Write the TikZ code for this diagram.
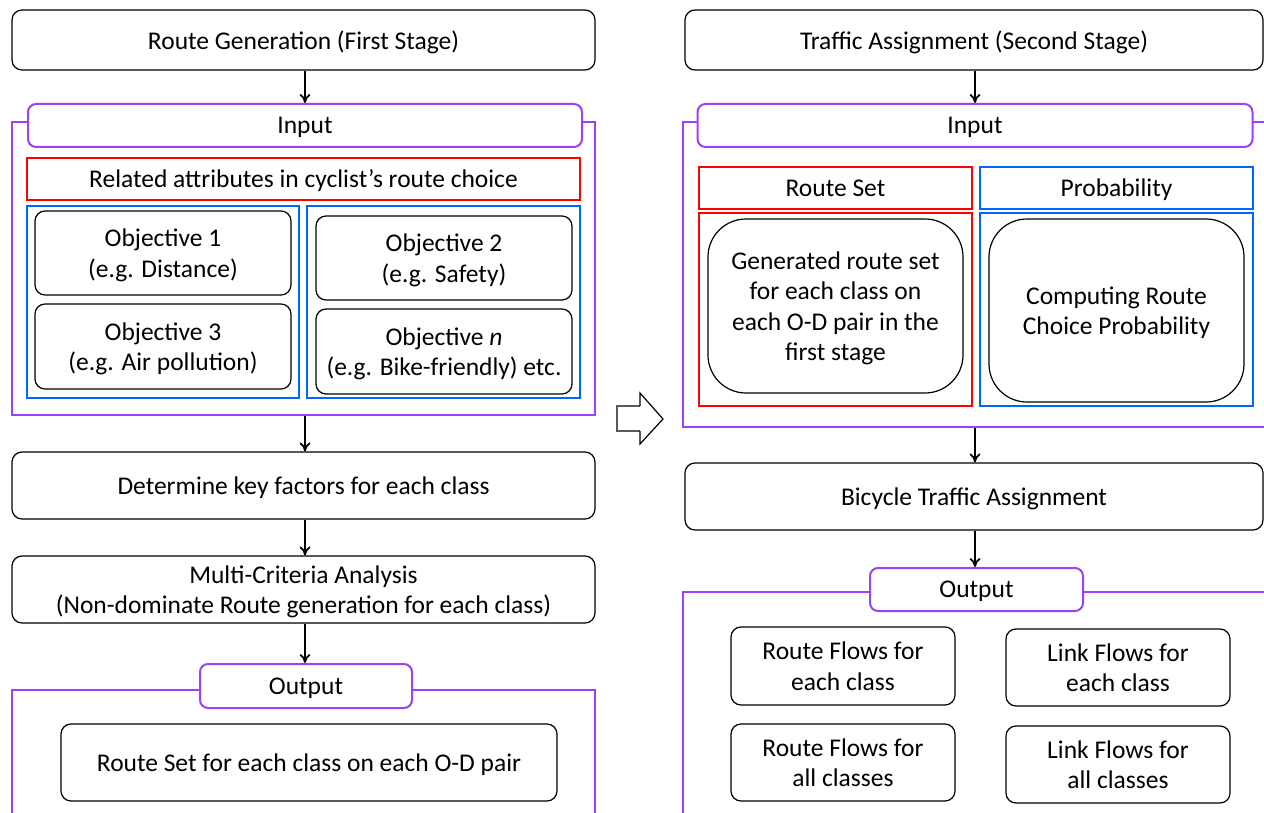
\documentclass[tikz,border=0pt]{standalone}
\usepackage{fontspec}
\setmainfont{Carlito}
\usetikzlibrary{arrows.meta}
\definecolor{purp}{RGB}{155,65,250}
\definecolor{myred}{RGB}{255,0,0}
\definecolor{myblue}{RGB}{0,102,255}
\tikzset{
  box/.style={draw=black, line width=1.2pt, rounded corners=10pt, fill=white, align=center, inner sep=0pt},
  pill/.style={draw=purp, line width=2pt, rounded corners=8pt, fill=white, align=center, inner sep=0pt},
  frame/.style={draw=purp, line width=2pt, inner sep=0pt},
  redbox/.style={draw=myred, line width=2pt, fill=white, align=center, inner sep=0pt},
  bluebox/.style={draw=myblue, line width=2pt, fill=white, align=center, inner sep=0pt},
  arr/.style={-{To[length=9pt,width=11pt]}, line width=1.8pt, black},
}
\begin{document}
\begin{tikzpicture}[x=1pt,y=-1pt, every node/.style={font=\fontsize{25.5}{30.5}\selectfont, text depth=0pt}]
\useasboundingbox (0,0) rectangle (1264,813);
% ---------------- Left column ----------------
\node[box, minimum width=583, minimum height=60] (top1) at (303.5,40) {Route Generation (First Stage)};
\node[frame, minimum width=583, minimum height=293] (frame1) at (303.5,268.5) {};
\node[pill, minimum width=554, minimum height=43] (in1) at (305,125.5) {Input};
\node[redbox, minimum width=553, minimum height=42] (attr) at (303.5,179) {Related attributes in cyclist’s route choice};
\node[bluebox, minimum width=272, minimum height=192] (blueL) at (163,302) {};
\node[bluebox, minimum width=273, minimum height=192] (blueR) at (443.5,302) {};
\node[box, minimum width=256, minimum height=84] (obj1) at (163,253) {Objective 1\\(e.g. Distance)};
\node[box, minimum width=256, minimum height=85] (obj3) at (163,346.5) {Objective 3\\(e.g. Air pollution)};
\node[box, minimum width=256, minimum height=84] (obj2) at (444,258) {Objective 2\\(e.g. Safety)};
\node[box, minimum width=256, minimum height=85] (objn) at (444,351.5) {Objective \textit{n}\\(e.g. Bike-friendly) etc.};
\node[box, minimum width=583, minimum height=67] (det) at (303.5,485.5) {Determine key factors for each class};
\node[box, minimum width=583, minimum height=67] (mca) at (303.5,589.5) {Multi-Criteria Analysis\\(Non-dominate Route generation for each class)};
\coordinate (o1a) at (12,830);
\coordinate (o1b) at (595,830);
\draw[purp, line width=2pt] (o1a) -- (12,690) -- (595,690) -- (o1b);
\node[pill, minimum width=212, minimum height=44] (out1) at (306,686) {Output};
\node[box, minimum width=496, minimum height=77] (rs) at (309,762.5) {Route Set for each class on each O-D pair};
\draw[arr] (top1.south -| in1.north) -- (in1.north);
\draw[arr] (frame1.south -| in1.north) -- (det.north -| in1.north);
\draw[arr] (det.south -| in1.north) -- (mca.north -| in1.north);
\draw[arr] (mca.south -| in1.north) -- (out1.north -| in1.north);
% ---------------- Block arrow ----------------
\draw[line width=1.2pt, black!65] (640,406) -- (617,406) -- (617,431) -- (640,431);
\draw[line width=1.2pt, black] (640,431) -- (640,444) -- (663,419) -- (640,393) -- (640,406);
% ---------------- Right column ----------------
\node[box, minimum width=578, minimum height=60] (top2) at (974,40) {Traffic Assignment (Second Stage)};
\node[frame, minimum width=587, minimum height=305] (frame2) at (976.5,274.5) {};
\node[pill, minimum width=555, minimum height=43] (in2) at (975,125.5) {Input};
\node[redbox, minimum width=273, minimum height=42] (rsh) at (835.5,188) {Route Set};
\node[bluebox, minimum width=273, minimum height=42] (prh) at (1116.5,188) {Probability};
\node[redbox, minimum width=273, minimum height=193] (rsb) at (835.5,309.5) {};
\node[bluebox, minimum width=273, minimum height=193] (prb) at (1116.5,309.5) {};
\node[box, rounded corners=38pt, minimum width=255, minimum height=174] (gen) at (835.5,306) {Generated route set\\for each class on\\each O-D pair in the\\first stage};
\node[box, rounded corners=38pt, minimum width=255, minimum height=183] (comp) at (1116.5,310.5) {Computing Route\\Choice Probability};
\node[box, minimum width=578, minimum height=67] (bta) at (974,496.5) {Bicycle Traffic Assignment};
\coordinate (o2a) at (683,830);
\coordinate (o2b) at (1280,592);
\draw[purp, line width=2pt] (o2a) -- (683,592) -- (o2b);
\node[pill, minimum width=213, minimum height=43] (out2) at (976.5,589.5) {Output};
\node[box, minimum width=224, minimum height=78] (rfe) at (843,666) {Route Flows for\\each class};
\node[box, minimum width=224, minimum height=77] (lfe) at (1118,667.5) {Link Flows for\\each class};
\node[box, minimum width=224, minimum height=77] (rfa) at (843,762.5) {Route Flows for\\all classes};
\node[box, minimum width=224, minimum height=77] (lfa) at (1118,764.5) {Link Flows for\\all classes};
\draw[arr] (top2.south -| in2.north) -- (in2.north);
\draw[arr] (frame2.south -| in2.north) -- (bta.north -| in2.north);
\draw[arr] (bta.south -| in2.north) -- (out2.north -| in2.north);
\end{tikzpicture}
\end{document}
